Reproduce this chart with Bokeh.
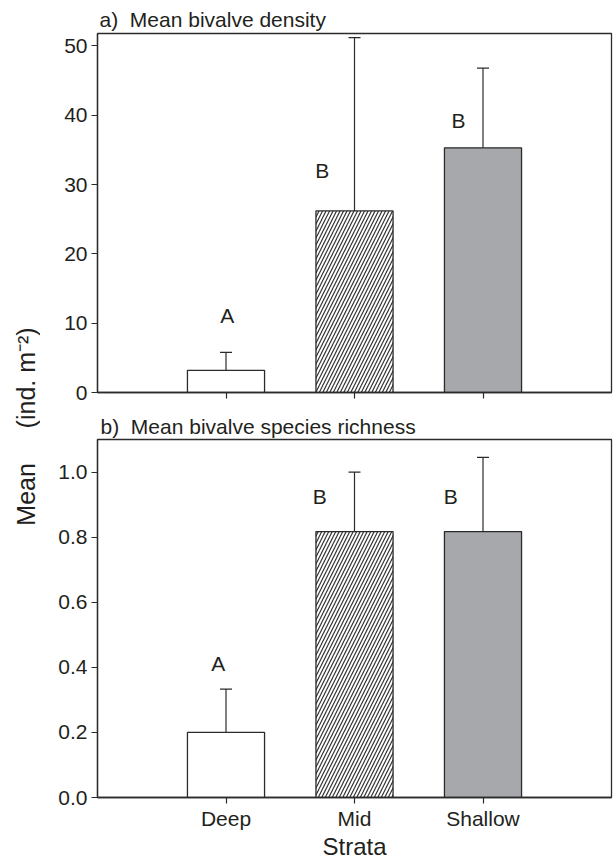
from bokeh.plotting import figure
from bokeh.layouts import row, column
from bokeh.models import ColumnDataSource, Whisker, TeeHead, FixedTicker, PrintfTickFormatter
from bokeh.core.properties import value
from bokeh.embed import file_html
from bokeh.resources import INLINE

strata = ["Deep", "Mid", "Shallow"]
density_mean = [3.2, 26.2, 35.3]
density_upper = [5.8, 51.2, 46.8]
density_letters = ["A", "B", "B"]
density_letter_x = [1.01, 1.75, 2.81]
density_letter_y = [11.1, 32.0, 39.2]
richness_mean = [0.2, 0.817, 0.817]
richness_upper = [0.333, 1.0, 1.045]
richness_letters = ["A", "B", "B"]
richness_letter_x = [0.94, 1.73, 2.75]
richness_letter_y = [0.413, 0.924, 0.924]
density_ticks = [0, 10, 20, 30, 40, 50]
richness_ticks = [0.0, 0.2, 0.4, 0.6, 0.8, 1.0]

FONT = "Liberation Sans"
TXT = "#231f20"
LINE = "#2b2b2b"
fills = ["white", "white", "#a7a8ac"]
hatches = [" ", "/", " "]
NB = "\u00a0"


def make_panel(title, means, uppers, letters, lx, ly, yticks, ymax, show_labels,
               width, height, bl, br, bt, bb, title_offset, title_standoff):
    xs = [i + 1 for i in range(len(strata))]
    p = figure(width=width, height=height, x_range=(0, 4), y_range=(0, ymax),
               output_backend="svg", toolbar_location=None,
               min_border_left=bl, min_border_right=br, min_border_top=bt, min_border_bottom=bb)
    p.title.text = title
    p.title.text_font = FONT
    p.title.text_font_size = "21px"
    p.title.text_font_style = "normal"
    p.title.text_color = TXT
    p.title.align = "left"
    p.title.offset = title_offset
    p.title.standoff = title_standoff
    p.grid.visible = False
    p.outline_line_color = LINE
    p.outline_line_width = 1.3
    p.background_fill_color = "white"
    p.border_fill_color = "white"

    src = ColumnDataSource(dict(x=xs, top=means, up=uppers, fill=fills, hatch=hatches))
    p.vbar(x="x", top="top", bottom=0, width=0.6, source=src, fill_color="fill",
           line_color=LINE, line_width=1.3, hatch_pattern="hatch", hatch_color="#333333",
           hatch_scale=7, hatch_weight=1.2)
    wh = Whisker(source=src, base="x", lower="top", upper="up", dimension="height",
                 line_color=LINE, line_width=1.2, lower_head=None,
                 upper_head=TeeHead(size=12, line_color=LINE, line_width=1.2))
    p.add_layout(wh)

    p.text(x=lx, y=ly, text=letters, text_font=value(FONT), text_font_size="21px",
           text_color=TXT, text_align="center", text_baseline="middle")

    for ax in p.axis:
        ax.axis_line_color = LINE
        ax.axis_line_width = 1.3
        ax.major_tick_line_color = LINE
        ax.major_tick_line_width = 1.2
        ax.major_tick_in = 0
        ax.major_tick_out = 6
        ax.minor_tick_line_color = None
        ax.major_label_text_font = FONT
        ax.major_label_text_font_size = "21px"
        ax.major_label_text_color = TXT
    p.yaxis.ticker = FixedTicker(ticks=yticks)
    p.yaxis.major_label_standoff = 4
    if show_labels:
        p.xaxis.ticker = FixedTicker(ticks=xs)
        p.xaxis.major_label_overrides = {x: s for x, s in zip(xs, strata)}
        p.xaxis.major_label_standoff = 3
        p.xaxis.axis_label = "Strata"
        p.xaxis.axis_label_text_font = FONT
        p.xaxis.axis_label_text_font_size = "24px"
        p.xaxis.axis_label_text_font_style = "normal"
        p.xaxis.axis_label_text_color = TXT
        p.xaxis.axis_label_standoff = 0
    else:
        # tick marks only (drawn as minor ticks, so no labels are produced)
        p.xaxis.ticker = FixedTicker(ticks=[], minor_ticks=xs)
        p.xaxis.minor_tick_line_color = LINE
        p.xaxis.minor_tick_line_width = 1.2
        p.xaxis.minor_tick_in = 0
        p.xaxis.minor_tick_out = 6
        p.xaxis.major_label_standoff = 0
    return p


top = make_panel("a)" + NB + " Mean bivalve density", density_mean, density_upper, density_letters,
                 density_letter_x, density_letter_y, density_ticks, 51.8, False,
                 573, 410, 53, 2, 33, 18, 2, 5)
top.yaxis.formatter = PrintfTickFormatter(format="%d")

bottom = make_panel("b)" + NB + " Mean bivalve species richness", richness_mean, richness_upper,
                    richness_letters, richness_letter_x, richness_letter_y, richness_ticks, 1.1, True,
                    573, 452, 57, 1, 28, 62, 3, 4)
bottom.yaxis.formatter = PrintfTickFormatter(format="%.1f")

# shared y-axis title, drawn as the axis label of a narrow, otherwise empty figure
lab = figure(width=40, height=862, x_range=(0, 1), y_range=(0, 1), output_backend="svg",
             toolbar_location=None, min_border_left=39, min_border_right=0,
             min_border_top=0, min_border_bottom=10)
lab.xaxis.visible = False
lab.grid.visible = False
lab.title.visible = False
lab.outline_line_color = None
lab.yaxis.ticker = FixedTicker(ticks=[])
lab.yaxis.axis_line_color = None
lab.yaxis.major_tick_line_color = None
lab.yaxis.minor_tick_line_color = None
lab.yaxis.axis_label = "Mean" + NB * 5 + "(ind. m\u207b\u00b2)"
lab.yaxis.axis_label_text_font = FONT
lab.yaxis.axis_label_text_font_size = "25px"
lab.yaxis.axis_label_text_font_style = "normal"
lab.yaxis.axis_label_text_color = TXT
lab.yaxis.axis_label_standoff = 0

layout = row(lab, column(top, bottom))
open("out.html", "w").write(file_html(layout, INLINE))
